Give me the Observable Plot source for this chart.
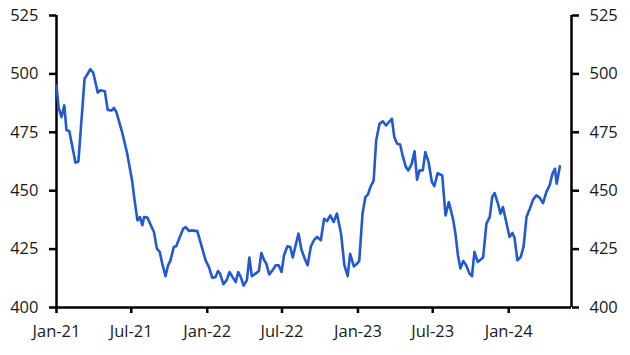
<!DOCTYPE html>
<html>
<head>
<meta charset="utf-8">
<script src="https://cdn.jsdelivr.net/npm/d3@7"></script>
<script src="https://cdn.jsdelivr.net/npm/@observablehq/plot@0.6"></script>
<style>
  html, body { margin: 0; padding: 0; background: #fff; }
  #chart svg { display: block; }
</style>
</head>
<body>
<div id="chart"></div>
<script>
const dates = [
  "2021-01-01","2021-01-06","2021-01-13","2021-01-20","2021-01-25","2021-02-01","2021-02-16","2021-02-23",
  "2021-03-10","2021-03-14","2021-03-24","2021-03-31","2021-04-11","2021-04-17","2021-04-28","2021-05-05",
  "2021-05-14","2021-05-20","2021-05-26","2021-06-09","2021-06-21","2021-07-03","2021-07-09","2021-07-16",
  "2021-07-22","2021-07-28","2021-08-01","2021-08-09","2021-08-15","2021-08-25","2021-09-01","2021-09-08",
  "2021-09-14","2021-09-22","2021-09-28","2021-10-04","2021-10-12","2021-10-18","2021-10-24","2021-11-04",
  "2021-11-10","2021-11-18","2021-11-23","2021-12-08","2021-12-20","2021-12-28",
  "2022-01-05","2022-01-13","2022-01-21","2022-01-27","2022-02-01","2022-02-09","2022-02-17","2022-02-24",
  "2022-03-03","2022-03-11","2022-03-17","2022-03-23","2022-03-30","2022-04-07","2022-04-13","2022-04-19",
  "2022-04-28","2022-05-06","2022-05-12","2022-05-19","2022-05-24","2022-05-31","2022-06-08","2022-06-16",
  "2022-06-23","2022-06-30","2022-07-06","2022-07-14","2022-07-21","2022-07-27","2022-08-04","2022-08-10",
  "2022-08-17","2022-08-25","2022-09-01","2022-09-09","2022-09-17","2022-09-24","2022-10-03","2022-10-11",
  "2022-10-18","2022-10-26","2022-11-03","2022-11-11","2022-11-21","2022-11-29","2022-12-07","2022-12-13",
  "2022-12-22","2022-12-30",
  "2023-01-04","2023-01-12","2023-01-19","2023-01-25","2023-01-31","2023-02-08","2023-02-14","2023-02-22",
  "2023-03-02","2023-03-10","2023-03-24","2023-03-30","2023-04-06","2023-04-13","2023-04-19","2023-04-27",
  "2023-05-03","2023-05-11","2023-05-18","2023-05-24","2023-05-30","2023-06-07","2023-06-13","2023-06-21",
  "2023-06-29","2023-07-05","2023-07-13","2023-07-24","2023-08-01","2023-08-09","2023-08-19","2023-08-25",
  "2023-08-31","2023-09-06","2023-09-13","2023-09-20","2023-09-28","2023-10-04","2023-10-10","2023-10-18",
  "2023-10-31","2023-11-08","2023-11-16","2023-11-22","2023-11-28","2023-12-06","2023-12-12","2023-12-18",
  "2023-12-26",
  "2024-01-03","2024-01-10","2024-01-15","2024-01-22","2024-01-30","2024-02-06","2024-02-13","2024-02-21",
  "2024-02-29","2024-03-08","2024-03-16","2024-03-24","2024-04-01","2024-04-09","2024-04-16","2024-04-22",
  "2024-04-26","2024-05-04"
];
const values = [
  495,485.7,481.5,486.5,476,475.5,462,462.5,
  498,499,502,500.5,492,493,492.6,484.6,
  484.3,485.5,483.6,475,466,454.4,446,437.3,
  438.7,435.2,438.7,438.5,436.2,432.3,425.2,423.8,
  418.8,413.4,418,420.2,425.9,426.2,429,433.8,
  434.4,432.7,433,432.7,425.2,420.2,
  417.4,412.8,413,415.6,414.5,410,411.7,415.2,
  413.1,410.9,415.2,413.1,409.4,411.7,421.4,413.4,
  414.5,415.6,423.3,420.2,418.8,414.2,415.9,418.1,
  418.1,415.2,422.4,426.2,425.9,421.4,427.4,431.6,
  424.8,420.9,418.1,426.2,429,430.2,428.8,438,
  437,439.4,436.6,440.2,431.6,418.1,413.4,423,
  417.6,418.8,
  419.9,440.2,447.3,448.3,451.5,454.4,471.5,478.6,
  479.7,477.9,480.8,472.9,470.1,469.8,465.1,460.1,
  458.7,461.5,466.9,454.7,458.7,458.7,466.5,462.2,
  453.7,452,457.5,456.5,439.4,445.1,438,431.6,
  422.4,416.7,419.9,418.1,414.5,413.4,423.8,419.5,
  421.4,435.9,438.7,447.3,449,444.4,440.2,443,
  436.6,
  430.2,431.9,429.9,420.2,421.6,426.2,438.7,442.3,
  446.2,448,447,444.7,449.4,452.3,457.3,459.4,
  453,460.5
];
const xTickDates = ["2021-01-01","2021-07-01","2022-01-01","2022-07-01","2023-01-01","2023-07-01","2024-01-01"];
const yTicks = [400, 425, 450, 475, 500, 525];
const xDomain = ["2021-01-01", "2024-06-01"];
const yDomain = [400, 525];

const data = dates.map((d, i) => ({date: new Date(d + "T00:00:00Z"), value: values[i]}));
const xStart = new Date(xDomain[0] + "T00:00:00Z");
const xEnd = new Date(xDomain[1] + "T00:00:00Z");
const xt = xTickDates.map(d => new Date(d + "T00:00:00Z"));

const font = "'Open Sans', 'Noto Sans', sans-serif";
const fs = 16.5;
const chart = Plot.plot({
  width: 630,
  height: 355,
  marginLeft: 56,
  marginRight: 59,
  marginTop: 15,
  marginBottom: 48,
  style: {fontFamily: font, fontSize: fs + "px", color: "#1a1a1a", background: "#fff"},
  x: {type: "utc", domain: [xStart, xEnd]},
  y: {domain: yDomain},
  marks: [
    Plot.axisY(yTicks, {anchor: "left", tickSize: 7, tickPadding: 11, strokeWidth: 2.5, stroke: "#000", fontSize: fs, label: null}),
    Plot.axisY(yTicks, {anchor: "right", tickSize: 7, tickPadding: 11, strokeWidth: 2.5, stroke: "#000", fontSize: fs, label: null}),
    Plot.axisX(xt, {anchor: "bottom", tickSize: 6, tickPadding: 12, strokeWidth: 2.5, stroke: "#000", fontSize: fs, label: null, tickFormat: d3.utcFormat("%b-%y")}),
    Plot.ruleX([xStart], {stroke: "#000", strokeWidth: 2.5}),
    Plot.ruleX([xEnd], {stroke: "#000", strokeWidth: 2.5}),
    Plot.ruleY([yDomain[0]], {stroke: "#000", strokeWidth: 2.5}),
    Plot.line(data, {x: "date", y: "value", stroke: "#2159d3", strokeWidth: 2.6, strokeLinejoin: "round", strokeLinecap: "round"})
  ]
});
document.getElementById("chart").appendChild(chart);
</script>
</body>
</html>
